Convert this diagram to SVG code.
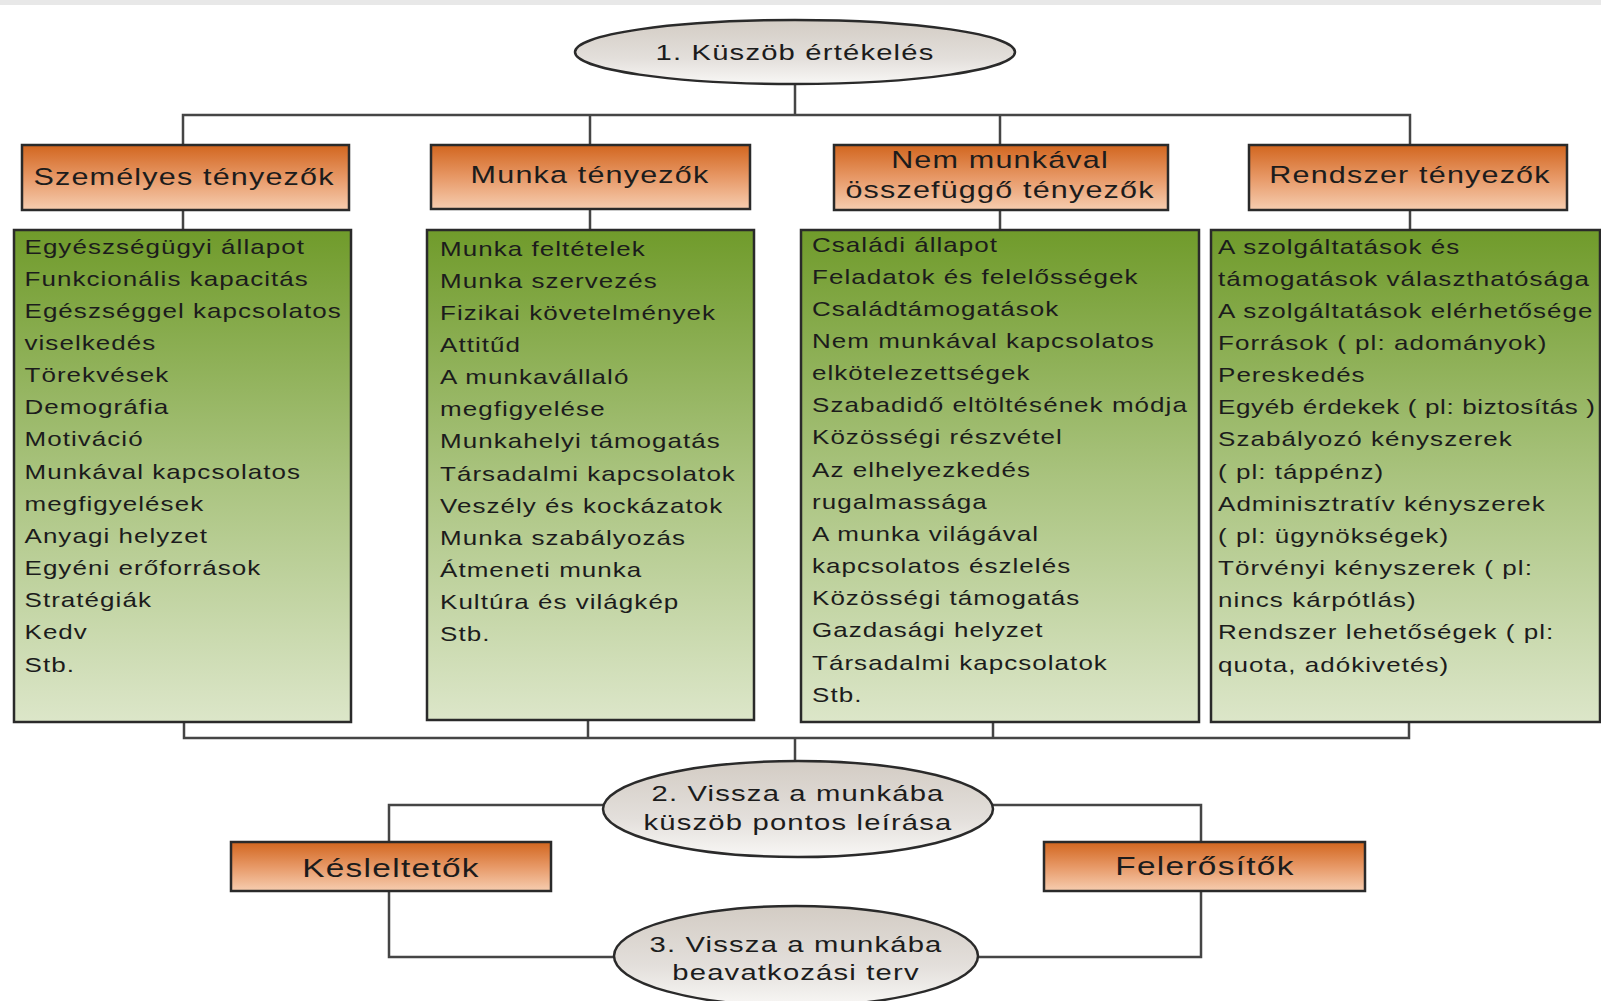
<svg xmlns="http://www.w3.org/2000/svg" width="1601" height="1001" viewBox="0 0 1601 1001">
  <defs>
    <linearGradient id="gOrange" x1="0" y1="0" x2="0" y2="1">
      <stop offset="0" stop-color="#d2661f"/>
      <stop offset="0.5" stop-color="#e79866"/>
      <stop offset="1" stop-color="#f6cdb0"/>
    </linearGradient>
    <linearGradient id="gGreen" x1="0" y1="0" x2="0" y2="1">
      <stop offset="0" stop-color="#709b2b"/>
      <stop offset="0.5" stop-color="#a9c37e"/>
      <stop offset="1" stop-color="#dce6c9"/>
    </linearGradient>
    <linearGradient id="gOval" x1="0" y1="0" x2="0" y2="1">
      <stop offset="0" stop-color="#d3ccc4"/>
      <stop offset="0.6" stop-color="#e3dfdb"/>
      <stop offset="1" stop-color="#f8f7f5"/>
    </linearGradient>
  </defs>
  <style>
    .lbl { font-family: "Liberation Sans", Arial, sans-serif; fill: #1c1c1c; }
    .body { font-size: 20px; letter-spacing: 0.8px; }
    .tight { letter-spacing: 0.5px; }
    .head { font-size: 23.5px; letter-spacing: 0.9px; text-anchor: middle; }
    .oval { font-size: 22.5px; letter-spacing: 0.9px; text-anchor: middle; }
    .big { font-size: 25.7px; letter-spacing: 1px; text-anchor: middle; }
    .orange { fill: url(#gOrange); stroke: #2a2a2a; stroke-width: 2.5; }
    .green { fill: url(#gGreen); stroke: #2a2a2a; stroke-width: 2.5; }
    .ell { fill: url(#gOval); stroke: #2a2a2a; stroke-width: 2.5; }
    .wire { fill: none; stroke: #454545; stroke-width: 2.5; }
  </style>

  <rect width="1601" height="1001" fill="#ffffff"/>
  <rect x="0" y="0" width="1601" height="5" fill="#e8e8e8"/>

  <!-- connectors -->
  <g id="connectors" class="wire">
    <path d="M795 84 V115 M183 145 V115 H1410 V145 M590 115 V145 M1000 115 V145"/>
    <path d="M183 210 V230 M590 209 V230 M1000 210 V230 M1410 210 V230"/>
    <path d="M184 722 V738 H1409 V722 M588 720 V738 M993 722 V738 M795 738 V761"/>
    <path d="M604 805 H389 V842 M993 805 H1201 V842"/>
    <path d="M389 891 V957 H614 M1201 891 V957 H978"/>
  </g>

  <!-- step 1 -->
  <g id="step1">
    <ellipse class="ell" cx="795" cy="52" rx="220" ry="32"/>
    <text class="lbl oval" transform="translate(795,0) scale(1.3,1)" y="60">1. Küszöb értékelés</text>
  </g>

  <!-- factor headers -->
  <g id="personal-head">
    <rect class="orange" x="22" y="145" width="327" height="65"/>
    <text class="lbl head" transform="translate(184,0) scale(1.3,1)" y="185">Személyes tényezők</text>
  </g>
  <g id="work-head">
    <rect class="orange" x="431" y="145" width="319" height="64"/>
    <text class="lbl head" transform="translate(590,0) scale(1.3,1)" y="183">Munka tényezők</text>
  </g>
  <g id="nonwork-head">
    <rect class="orange" x="834" y="145" width="334" height="65"/>
    <text class="lbl head" transform="translate(1000,0) scale(1.3,1)" y="168">Nem munkával</text>
    <text class="lbl head" transform="translate(1000,0) scale(1.3,1)" y="198">összefüggő tényezők</text>
  </g>
  <g id="system-head">
    <rect class="orange" x="1249" y="145" width="318" height="65"/>
    <text class="lbl head" transform="translate(1410,0) scale(1.3,1)" y="183">Rendszer tényezők</text>
  </g>

  <!-- factor lists -->
  <g id="personal-list">
    <rect class="green" x="14" y="230" width="337" height="492"/>
    <g class="lbl body" transform="translate(24.5,0) scale(1.3,1)">
      <text y="254">Egyészségügyi állapot</text>
      <text y="286">Funkcionális kapacitás</text>
      <text y="318">Egészséggel kapcsolatos</text>
      <text y="350">viselkedés</text>
      <text y="382">Törekvések</text>
      <text y="414">Demográfia</text>
      <text y="446">Motiváció</text>
      <text y="479">Munkával kapcsolatos</text>
      <text y="511">megfigyelések</text>
      <text y="543">Anyagi helyzet</text>
      <text y="575">Egyéni erőforrások</text>
      <text y="607">Stratégiák</text>
      <text y="639">Kedv</text>
      <text y="672">Stb.</text>
    </g>
  </g>
  <g id="work-list">
    <rect class="green" x="427" y="230" width="327" height="490"/>
    <g class="lbl body" transform="translate(440,0) scale(1.3,1)">
      <text y="256">Munka feltételek</text>
      <text y="288">Munka szervezés</text>
      <text y="320">Fizikai követelmények</text>
      <text y="352">Attitűd</text>
      <text y="384">A munkavállaló</text>
      <text y="416">megfigyelése</text>
      <text y="448">Munkahelyi támogatás</text>
      <text y="481">Társadalmi kapcsolatok</text>
      <text y="513">Veszély és kockázatok</text>
      <text y="545">Munka szabályozás</text>
      <text y="577">Átmeneti munka</text>
      <text y="609">Kultúra és világkép</text>
      <text y="641">Stb.</text>
    </g>
  </g>
  <g id="nonwork-list">
    <rect class="green" x="801" y="230" width="398" height="492"/>
    <g class="lbl body" transform="translate(812,0) scale(1.3,1)">
      <text y="252">Családi állapot</text>
      <text y="284">Feladatok és felelősségek</text>
      <text y="316">Családtámogatások</text>
      <text y="348">Nem munkával kapcsolatos</text>
      <text y="380">elkötelezettségek</text>
      <text y="412">Szabadidő eltöltésének módja</text>
      <text y="444">Közösségi részvétel</text>
      <text y="477">Az elhelyezkedés</text>
      <text y="509">rugalmassága</text>
      <text y="541">A munka világával</text>
      <text y="573">kapcsolatos észlelés</text>
      <text y="605">Közösségi támogatás</text>
      <text y="637">Gazdasági helyzet</text>
      <text y="670">Társadalmi kapcsolatok</text>
      <text y="702">Stb.</text>
    </g>
  </g>
  <g id="system-list">
    <rect class="green" x="1211" y="230" width="389" height="492"/>
    <g class="lbl body" transform="translate(1218,0) scale(1.3,1)">
      <text y="254">A szolgáltatások és</text>
      <text y="286">támogatások választhatósága</text>
      <text y="318">A szolgáltatások elérhetősége</text>
      <text y="350">Források ( pl: adományok)</text>
      <text y="382">Pereskedés</text>
      <text class="tight" y="414">Egyéb érdekek ( pl: biztosítás )</text>
      <text y="446">Szabályozó kényszerek</text>
      <text y="479">( pl: táppénz)</text>
      <text y="511">Adminisztratív kényszerek</text>
      <text y="543">( pl: ügynökségek)</text>
      <text y="575">Törvényi kényszerek ( pl:</text>
      <text y="607">nincs kárpótlás)</text>
      <text y="639">Rendszer lehetőségek ( pl:</text>
      <text y="672">quota, adókivetés)</text>
    </g>
  </g>

  <!-- step 2 -->
  <g id="step2">
    <ellipse class="ell" cx="798" cy="809" rx="195" ry="48"/>
    <text class="lbl oval" transform="translate(798,0) scale(1.3,1)" y="801">2. Vissza a munkába</text>
    <text class="lbl oval" transform="translate(798,0) scale(1.3,1)" y="830">küszöb pontos leírása</text>
  </g>

  <!-- modifiers -->
  <g id="delays">
    <rect class="orange" x="231" y="842" width="320" height="49"/>
    <text class="lbl big" transform="translate(391,0) scale(1.3,1)" y="877">Késleltetők</text>
  </g>
  <g id="boosters">
    <rect class="orange" x="1044" y="842" width="321" height="49"/>
    <text class="lbl big" transform="translate(1205,0) scale(1.3,1)" y="875">Felerősítők</text>
  </g>

  <!-- step 3 -->
  <g id="step3">
    <ellipse class="ell" cx="796" cy="956" rx="182" ry="50"/>
    <text class="lbl oval" transform="translate(796,0) scale(1.3,1)" y="952">3. Vissza a munkába</text>
    <text class="lbl oval" transform="translate(796,0) scale(1.3,1)" y="980">beavatkozási terv</text>
  </g>
</svg>
